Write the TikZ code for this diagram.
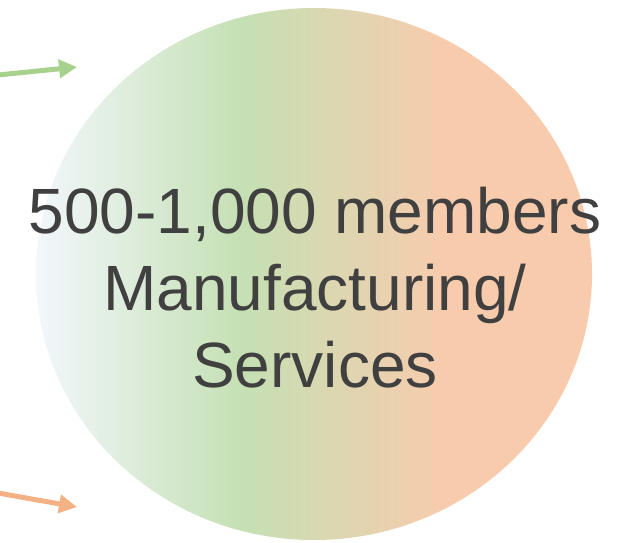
\documentclass[tikz,border=0pt]{standalone}
\usepackage{fontspec}
\setmainfont{Liberation Sans}
\usetikzlibrary{shapes.geometric,arrows.meta}
\definecolor{cleft}{HTML}{F2F7FC}
\definecolor{cgreen}{HTML}{C5E0B4}
\definecolor{corange}{HTML}{F8CBAD}
\definecolor{agreen}{HTML}{A9D18E}
\definecolor{aorange}{HTML}{F4B183}
\definecolor{txt}{HTML}{404040}
\pgfdeclarehorizontalshading{circshade}{100bp}{color(0bp)=(cleft); color(25bp)=(cleft); color(43.5bp)=(cgreen); color(62bp)=(corange); color(100bp)=(corange)}
\tikzset{
  bigtext/.style={font=\fontsize{64}{77}\selectfont, text=txt, anchor=base, inner sep=0pt},
  conn/.style={line width=5pt, -{Triangle[length=18pt,width=18pt]}},
}
\begin{document}
\begin{tikzpicture}[x=1pt,y=1pt]
\useasboundingbox (0,0) rectangle (623,542);
\node (c) [ellipse, minimum width=556pt, minimum height=532pt, inner sep=0pt, shading=circshade, draw=none] at (314,268) {};
\node (l1) [bigtext] at (315,309) {500-1,000 members};
\node (l2) [bigtext] at (315,232) {Manufacturing/};
\node (l3) [bigtext] at (315,155) {Services};
\coordinate (g0) at (-2,467);
\coordinate (g1) at (77,475);
\coordinate (o0) at (-2,49);
\coordinate (o1) at (77,35);
\draw[conn, agreen] (g0) -- (g1);
\draw[conn, aorange] (o0) -- (o1);
\end{tikzpicture}
\end{document}
